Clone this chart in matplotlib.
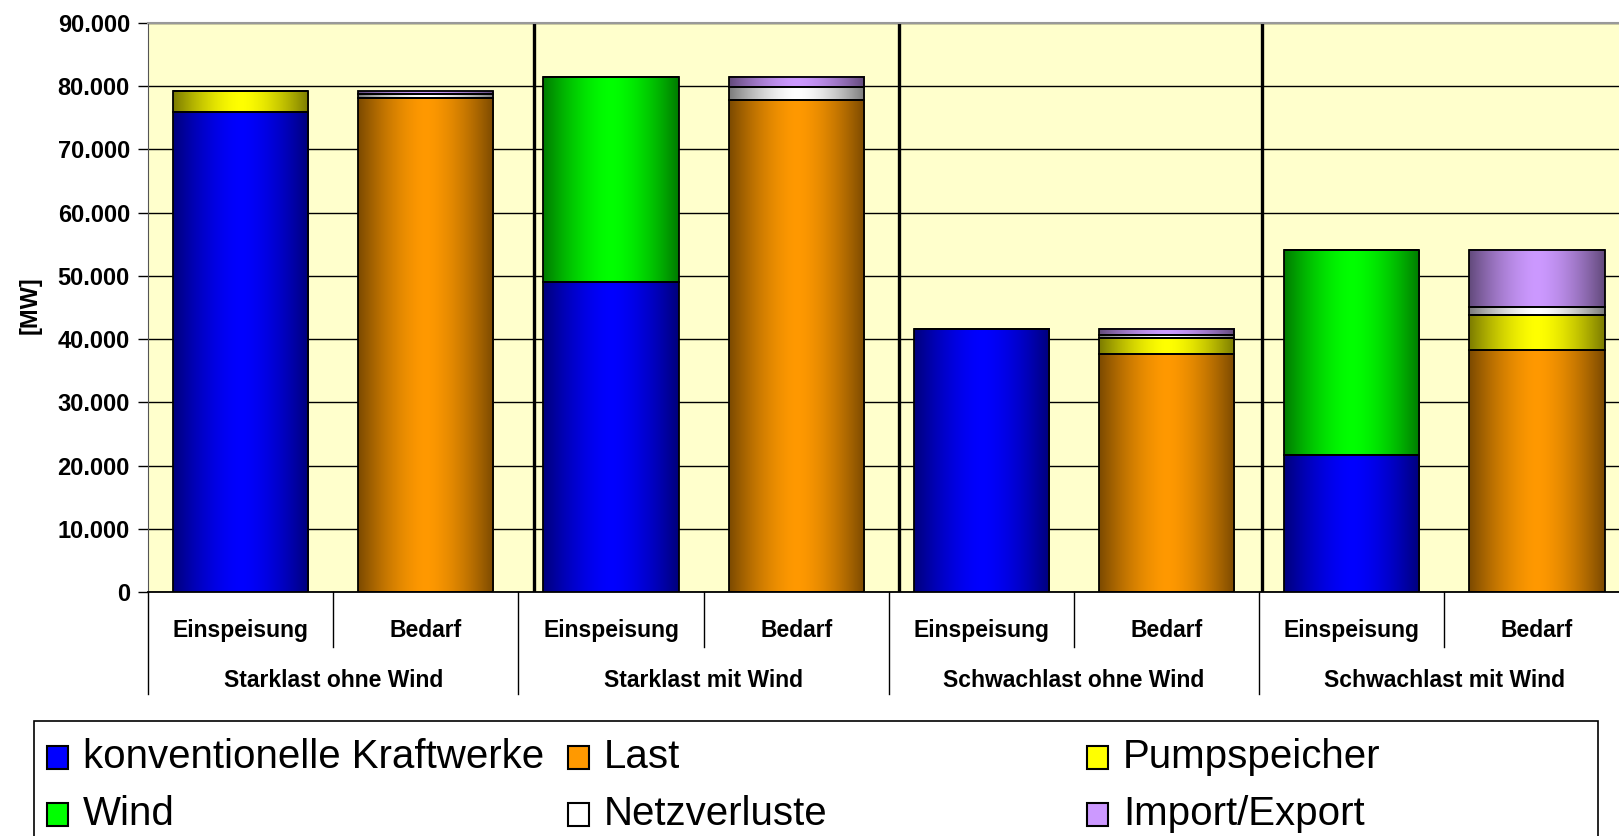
import numpy as np
import matplotlib
matplotlib.use('Agg')
import matplotlib.pyplot as plt
import matplotlib.transforms as mtransforms
from matplotlib.patches import Rectangle
from matplotlib.ticker import FuncFormatter

plt.rcParams['font.family'] = ['Liberation Sans', 'DejaVu Sans']

# --- data (MW) ---
categories = ['Einspeisung', 'Bedarf'] * 4
groups = ['Starklast ohne Wind', 'Starklast mit Wind',
          'Schwachlast ohne Wind', 'Schwachlast mit Wind']
konventionell = [76000, 0, 49000, 0, 41650, 0, 21700, 0]
last = [0, 78100, 0, 77750, 0, 37650, 0, 38300]
pumpspeicher = [3250, 0, 0, 0, 0, 2450, 0, 5500]
wind = [0, 0, 32400, 0, 0, 0, 32400, 0]
netzverluste = [0, 700, 0, 2050, 0, 500, 0, 1250]
import_export = [0, 450, 0, 1650, 0, 1050, 0, 9050]

series = [
    ('konventionelle Kraftwerke', konventionell, (0.0, 0.0, 1.0)),
    ('Last', last, (1.0, 0.6, 0.0)),
    ('Pumpspeicher', pumpspeicher, (1.0, 1.0, 0.0)),
    ('Wind', wind, (0.0, 1.0, 0.0)),
    ('Netzverluste', netzverluste, (1.0, 1.0, 1.0)),
    ('Import/Export', import_export, (0.8, 0.6, 1.0)),
]
legend_order = [0, 1, 2, 3, 4, 5]
separators = [2.084, 4.057, 6.017]

W, H = 1619, 836
fig = plt.figure(figsize=(W / 100, H / 100), dpi=100)
ax = fig.add_axes([148 / W, 1 - 592 / H, 1 - 148 / W, (592 - 23) / H])
ax.set_facecolor('#FFFFCC')

xpos = np.arange(len(categories)) + 0.5
bar_w = 0.73


def shade(rgb, n=200):
    t = np.linspace(-1, 1, n)
    f = 1 - 0.52 * np.abs(t) ** 1.6
    c = np.array(rgb)
    if c.min() > 0.95:  # white -> grey edges
        img = np.outer(f, np.ones(3))
    else:
        img = np.outer(f, c)
    return img[np.newaxis, :, :]


bottom = np.zeros(len(categories))
for name, vals, col in series:
    vals = np.array(vals, dtype=float)
    bars = ax.bar(xpos, vals, bar_w, bottom=bottom, facecolor='none',
                  edgecolor='black', linewidth=1.3, zorder=4)
    for b, v in zip(bars, vals):
        if v <= 0:
            continue
        x0, y0 = b.get_x(), b.get_y()
        ax.imshow(shade(col), extent=[x0, x0 + b.get_width(), y0, y0 + b.get_height()],
                  aspect='auto', interpolation='bilinear', zorder=3)
    bottom += vals

for s in separators:
    ax.axvline(s, color='black', lw=2.4, zorder=2)

ax.set_xlim(0, (W - 148) / 185.2)
ax.set_ylim(0, 90000)
ax.set_yticks(np.arange(0, 90001, 10000))
ax.yaxis.set_major_formatter(FuncFormatter(lambda v, p: f'{v:,.0f}'.replace(',', '.')))
ax.yaxis.grid(True, color='black', lw=1.0)
ax.set_axisbelow(True)
ax.set_xticks([])
ax.tick_params(axis='y', direction='out', length=7, width=1, pad=6, labelsize=17)
for lab in ax.get_yticklabels():
    lab.set_fontweight('bold')

ax.spines['right'].set_visible(False)
ax.spines['top'].set_color('#999999')
ax.spines['top'].set_linewidth(1.5)
ax.spines['left'].set_color('#555555')
ax.spines['bottom'].set_color('black')
ax.spines['bottom'].set_linewidth(1.3)

ax.set_ylabel('[MW]', fontsize=17, fontweight='bold')
ax.yaxis.set_label_coords(-0.0725, 0.505)

# two-level category axis
trans = mtransforms.blended_transform_factory(ax.transData, ax.transAxes)
for x, c in zip(xpos, categories):
    ax.text(x, -0.068, c, transform=trans, ha='center', va='center',
            fontsize=16.5, fontweight='bold')
for i, g in enumerate(groups):
    ax.text(2 * i + 1, -0.156, g, transform=trans, ha='center', va='center',
            fontsize=16.5, fontweight='bold')
for i in range(len(categories) + 1):
    y_end = -0.179 if i % 2 == 0 else -0.097
    ax.plot([i, i], [0, y_end], transform=trans, color='black', lw=1,
            clip_on=False)

# legend (fixed-width columns)
fig.add_artist(Rectangle((34 / W, -0.01), (1598 - 34) / W, 0.01 + 1 - 721 / H,
                         transform=fig.transFigure, facecolor='white',
                         edgecolor='black', lw=1.2))
col_x = [47, 568, 1087]
row_y = [757, 814]
for k, idx in enumerate(legend_order):
    name, vals, col = series[idx]
    r, c = divmod(k, 3)
    mx, my = col_x[c], row_y[r]
    fig.add_artist(Rectangle((mx / W, 1 - (my + 12) / H), 21 / W, 23 / H,
                             transform=fig.transFigure, facecolor=col,
                             edgecolor='black', lw=1.5))
    fig.text((mx + 36) / W, 1 - my / H, name, fontsize=29, ha='left',
             va='center')

fig.savefig('out.png', dpi=100)
